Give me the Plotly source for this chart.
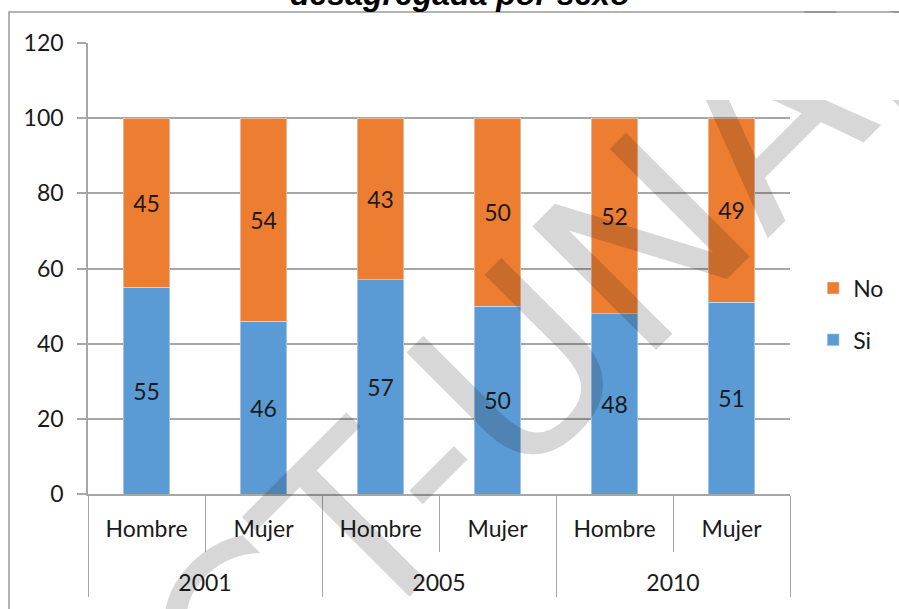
import plotly.graph_objects as go

years = ["2001", "2001", "2005", "2005", "2010", "2010"]
sexes = ["Hombre", "Mujer", "Hombre", "Mujer", "Hombre", "Mujer"]
si_values = [55, 46, 57, 50, 48, 51]
no_values = [45, 54, 43, 50, 52, 49]
y_ticks = [0, 20, 40, 60, 80, 100, 120]

BLUE = "#5B9BD5"
ORANGE = "#ED7D31"
GRID = "#A6A6A6"
FONT = "Lato"
TXT = "#1a1a1a"

LBL = "<span style='font-size:23px'>{}</span>"
sex_labels = [LBL.format(s) for s in sexes]
year_labels = ["<br>" + LBL.format(y) for y in years]

fig = go.Figure()
fig.add_trace(go.Bar(
    x=[year_labels, sex_labels], y=si_values, name="Si", marker_color=BLUE,
    text=[str(v) for v in si_values], textposition="inside",
    insidetextanchor="middle", textangle=0,
    textfont=dict(family=FONT, size=23, color=TXT),
    legendgroup="si", legendrank=2,
))
fig.add_trace(go.Bar(
    x=[year_labels, sex_labels], y=no_values, name="No", marker_color=ORANGE,
    text=[str(v) for v in no_values], textposition="inside",
    insidetextanchor="middle", textangle=0,
    textfont=dict(family=FONT, size=23, color=TXT),
    legendgroup="no", legendrank=1,
))

fig.update_layout(
    width=899, height=609,
    margin=dict(l=88, r=109, t=43, b=115, autoexpand=False),
    barmode="stack", bargap=0.6,
    paper_bgcolor="white", plot_bgcolor="white",
    font=dict(family=FONT, size=23, color=TXT),
    showlegend=True,
    legend=dict(
        x=1.033, y=0.5044, xanchor="left", yanchor="top",
        traceorder="grouped", tracegroupgap=19,
        font=dict(family=FONT, size=23, color=TXT),
        itemwidth=30, bgcolor="rgba(0,0,0,0)",
    ),
    xaxis=dict(
        type="multicategory", automargin=False,
        showline=True, linecolor=GRID, linewidth=2,
        ticks="outside", tickson="boundaries", ticklen=56,
        tickcolor=GRID, tickwidth=1,
        ticklabelstandoff=10,
        showdividers=True, dividercolor=GRID, dividerwidth=1,
        tickfont=dict(family=FONT, size=26, color=TXT),
        showgrid=False,
    ),
    yaxis=dict(
        automargin=False,
        range=[0, 120], tickvals=y_ticks, ticktext=[str(t) for t in y_ticks],
        showgrid=True, gridcolor=GRID, gridwidth=1.5,
        showline=True, linecolor=GRID, linewidth=1.5,
        ticks="outside", ticklen=9, tickcolor=GRID, tickwidth=1.5,
        ticklabelstandoff=9,
        tickfont=dict(family=FONT, size=23, color=TXT),
        zeroline=False,
    ),
)

# chart border (outer frame)
fig.add_shape(type="rect", xref="paper", yref="paper",
              x0=(9 - 88) / 702, x1=1.3, y0=-0.5, y1=1 + (43 - 12) / 451,
              line=dict(color="#9a9a9a", width=1.5), fillcolor="rgba(0,0,0,0)",
              layer="below")

# title (cut at top of page)
fig.add_annotation(
    text="<b><i>desagregada por sexo</i></b>", xref="paper", yref="paper",
    x=(460 - 88) / 702, y=1 + (43 - 14) / 451, xanchor="center", yanchor="bottom",
    showarrow=False, font=dict(family="Liberation Sans", size=32, color="#000000"),
)

# watermark
fig.add_annotation(
    text="CT-UNAN", xref="paper", yref="paper",
    x=(570 - 88) / 702, y=(494 - 319) / 451, xanchor="center", yanchor="middle",
    textangle=-45, showarrow=False,
    font=dict(family="DejaVu Sans", size=240, color="rgba(15,15,15,0.17)"),
)

# the reference watermark is cut off above y~100 px: mask that band,
# leaving the frame line (y=12) and the 120 gridline (y=43, x<790) visible
masks = [
    (790, 899, 0, 11.2), (790, 899, 12.8, 99.5),
    (665, 790, 0, 11.2), (665, 790, 12.8, 42.2), (665, 790, 43.8, 99.5),
]
for x0p, x1p, t, b in masks:
    fig.add_annotation(
        text=" ", xref="paper", yref="paper",
        x=(x0p - 88) / 702, y=(494 - t) / 451, xanchor="left", yanchor="top",
        width=x1p - x0p, height=b - t, borderpad=0, borderwidth=0,
        bgcolor="white", showarrow=False, font=dict(size=1),
    )

fig.write_html("out.html", config={"displayModeBar": False},
               post_script="document.body.style.margin='0';")
